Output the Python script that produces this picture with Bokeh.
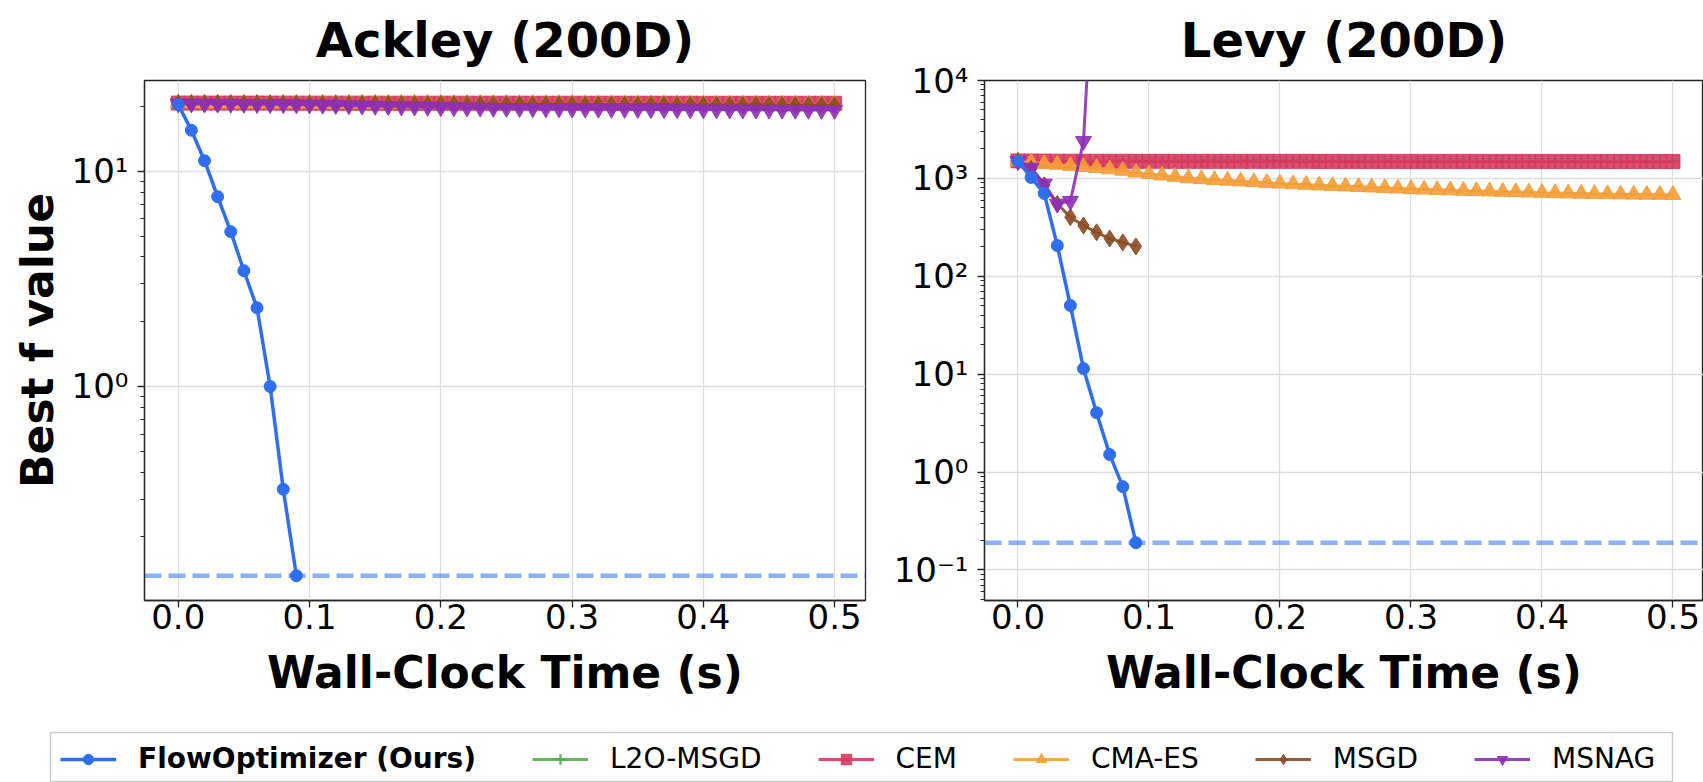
from bokeh.plotting import figure
from bokeh.layouts import column, row
from bokeh.models import ColumnDataSource, FixedTicker, Range1d, Span, Legend, LegendItem
from bokeh.embed import file_html
from bokeh.resources import INLINE

FONT = "DejaVu Sans"

# ---------------- data ----------------
methods = ["FlowOptimizer (Ours)", "L2O-MSGD", "CEM", "CMA-ES", "MSGD", "MSNAG"]

time_full = [0.00, 0.01, 0.02, 0.03, 0.04, 0.05, 0.06, 0.07, 0.08, 0.09,
             0.10, 0.11, 0.12, 0.13, 0.14, 0.15, 0.16, 0.17, 0.18, 0.19,
             0.20, 0.21, 0.22, 0.23, 0.24, 0.25, 0.26, 0.27, 0.28, 0.29,
             0.30, 0.31, 0.32, 0.33, 0.34, 0.35, 0.36, 0.37, 0.38, 0.39,
             0.40, 0.41, 0.42, 0.43, 0.44, 0.45, 0.46, 0.47, 0.48, 0.49, 0.50]
time_short = [0.00, 0.01, 0.02, 0.03, 0.04, 0.05, 0.06, 0.07, 0.08, 0.09]
time_msnag_levy = [0.00, 0.01, 0.02, 0.03, 0.04, 0.05, 0.06]

# Ackley (200D)
ackley_flow = [20.4, 15.5, 11.2, 7.62, 5.24, 3.45, 2.32, 1.00, 0.333, 0.132]
ackley_l2o = [20.72, 20.72, 20.71, 20.71, 20.71, 20.71, 20.70, 20.70, 20.70, 20.70,
              20.70, 20.70, 20.69, 20.69, 20.69, 20.69, 20.69, 20.69, 20.69, 20.68,
              20.68, 20.68, 20.68, 20.68, 20.68, 20.68, 20.68, 20.67, 20.67, 20.67,
              20.67, 20.67, 20.67, 20.67, 20.67, 20.66, 20.66, 20.66, 20.66, 20.66,
              20.66, 20.66, 20.66, 20.66, 20.65, 20.65, 20.65, 20.65, 20.65, 20.65, 20.65]
ackley_cem = [20.74, 20.74, 20.74, 20.73, 20.73, 20.73, 20.73, 20.73, 20.72, 20.72,
              20.72, 20.72, 20.72, 20.72, 20.72, 20.72, 20.71, 20.71, 20.71, 20.71,
              20.71, 20.71, 20.71, 20.71, 20.71, 20.71, 20.71, 20.70, 20.70, 20.70,
              20.70, 20.70, 20.70, 20.70, 20.70, 20.70, 20.70, 20.70, 20.70, 20.70,
              20.69, 20.69, 20.69, 20.69, 20.69, 20.69, 20.69, 20.69, 20.69, 20.69, 20.69]
ackley_cmaes = [20.70, 20.70, 20.69, 20.69, 20.68, 20.68, 20.67, 20.67, 20.66, 20.66,
                20.65, 20.64, 20.64, 20.63, 20.63, 20.62, 20.61, 20.61, 20.60, 20.60,
                20.59, 20.58, 20.58, 20.57, 20.57, 20.56, 20.55, 20.55, 20.54, 20.54,
                20.53, 20.53, 20.52, 20.52, 20.51, 20.51, 20.50, 20.50, 20.49, 20.49,
                20.48, 20.48, 20.48, 20.47, 20.47, 20.47, 20.46, 20.46, 20.46, 20.45, 20.45]
ackley_msgd = [20.70, 20.69, 20.69, 20.68, 20.66, 20.66, 20.65, 20.63, 20.63, 20.62,
               20.60, 20.60, 20.59, 20.57, 20.57, 20.56, 20.55, 20.54, 20.53, 20.53,
               20.52, 20.51, 20.50, 20.50, 20.49, 20.48, 20.47, 20.47, 20.46, 20.45,
               20.45, 20.44, 20.43, 20.43, 20.42, 20.41, 20.41, 20.40, 20.39, 20.39,
               20.38, 20.37, 20.37, 20.36, 20.36, 20.35, 20.34, 20.34, 20.33, 20.33, 20.32]
ackley_msnag = [20.62, 20.60, 20.58, 20.56, 20.54, 20.52, 20.50, 20.48, 20.45, 20.42,
                20.38, 20.33, 20.28, 20.22, 20.16, 20.10, 20.04, 19.98, 19.93, 19.88,
                19.83, 19.79, 19.75, 19.71, 19.68, 19.65, 19.62, 19.59, 19.56, 19.54,
                19.52, 19.50, 19.48, 19.46, 19.44, 19.42, 19.41, 19.39, 19.38, 19.36,
                19.35, 19.34, 19.32, 19.31, 19.30, 19.29, 19.28, 19.27, 19.26, 19.25, 19.24]

# Levy (200D)
levy_flow = [1500, 1024, 703, 206, 50.3, 11.4, 4.04, 1.51, 0.71, 0.19]
levy_l2o = [1502, 1500, 1499, 1498, 1498, 1497, 1497, 1496, 1496, 1496,
            1495, 1495, 1495, 1495, 1494, 1494, 1494, 1494, 1494, 1493,
            1493, 1493, 1493, 1493, 1493, 1492, 1492, 1492, 1492, 1492,
            1492, 1491, 1491, 1491, 1491, 1491, 1491, 1491, 1490, 1490,
            1490, 1490, 1490, 1490, 1490, 1490, 1489, 1489, 1489, 1489, 1489]
levy_cem = [1510, 1506, 1503, 1501, 1500, 1499, 1498, 1497, 1497, 1496,
            1496, 1495, 1495, 1495, 1494, 1494, 1494, 1494, 1493, 1493,
            1493, 1493, 1493, 1492, 1492, 1492, 1492, 1492, 1492, 1491,
            1491, 1491, 1491, 1491, 1491, 1491, 1490, 1490, 1490, 1490,
            1490, 1490, 1490, 1490, 1490, 1489, 1489, 1489, 1489, 1489, 1489]
levy_cmaes = [1500, 1455, 1415, 1380, 1345, 1315, 1280, 1240, 1200, 1150,
              1110, 1075, 1040, 1005, 985, 965, 950, 935, 918, 902,
              888, 874, 862, 850, 840, 830, 820, 810, 800, 790,
              780, 772, 764, 757, 750, 744, 738, 732, 726, 720,
              714, 709, 704, 700, 696, 692, 689, 686, 684, 682, 680]
levy_msgd = [1500, 1250, 850, 550, 402, 330, 281, 243, 222, 202]
levy_msnag = [1500, 1283, 881, 550, 586, 2405, 650000]

x_tick_values = [0.0, 0.1, 0.2, 0.3, 0.4, 0.5]
x_tick_labels = ["0.0", "0.1", "0.2", "0.3", "0.4", "0.5"]
ackley_y_ticks = [0.1, 1, 10]
ackley_y_labels = ["10\u207b\u00b9", "10\u2070", "10\u00b9"]
levy_y_ticks = [0.1, 1, 10, 100, 1000, 10000]
levy_y_labels = ["10\u207b\u00b9", "10\u2070", "10\u00b9", "10\u00b2", "10\u00b3", "10\u2074"]

# ---------------- styles ----------------
colors = ["#2F6FEF", "#55AF4F", "#D7385E", "#F49D38", "#8B4A22", "#8F2FB6"]
markers = ["circle", "cross", "square", "triangle", "diamond", "inverted_triangle"]
msizes = [12, 13, 14, 16, 17, 16]
lwidths = [3.5, 3, 3, 3, 3, 3]
alphas = [1.0, 0.9, 0.9, 0.9, 0.9, 0.9]
SPINE = "#262626"
GRID = "#dddddd"


def style_axes(p):
    for ax in p.axis:
        ax.major_label_text_font = FONT
        ax.major_label_text_font_size = "34px"
        ax.major_label_text_color = "black"
        ax.axis_line_color = SPINE
        ax.axis_line_width = 1.3
        ax.major_tick_line_color = SPINE
        ax.major_tick_line_width = 1.3
        ax.minor_tick_line_color = SPINE
        ax.minor_tick_line_width = 1.0
        ax.major_tick_out = 7
        ax.major_tick_in = 0
        ax.minor_tick_out = 4
        ax.minor_tick_in = 0
        ax.major_label_standoff = 9
        ax.axis_label_text_font = FONT
        ax.axis_label_text_font_size = "44px"
        ax.axis_label_text_font_style = "bold"
        ax.axis_label_text_color = "black"


def make_panel(title, series, y_range, y_ticks, y_labels, x_range, width,
               mb_left, mb_right, ylabel):
    p = figure(width=width, height=724, x_range=Range1d(*x_range),
               y_range=Range1d(*y_range), y_axis_type="log",
               output_backend="svg", toolbar_location=None,
               min_border_left=mb_left, min_border_right=mb_right,
               min_border_top=80, min_border_bottom=124)
    p.background_fill_color = "white"
    p.border_fill_color = "white"
    p.outline_line_color = SPINE
    p.outline_line_width = 1.3
    p.title.text = title
    p.title.text_font = FONT
    p.title.text_font_size = "48px"
    p.title.text_font_style = "bold"
    p.title.align = "center"
    p.title.vertical_align = "top"
    p.title.text_color = "black"
    p.title.standoff = 22

    minor = [k * d for d in [0.01, 0.1, 1, 10, 100, 1000] for k in range(2, 10)]
    yt = FixedTicker(ticks=y_ticks, minor_ticks=minor)
    xt = FixedTicker(ticks=x_tick_values)
    p.yaxis.ticker = yt
    p.xaxis.ticker = xt
    p.ygrid.ticker = yt
    p.xgrid.ticker = xt
    p.yaxis.major_label_overrides = dict(zip(y_ticks, y_labels))
    p.xaxis.major_label_overrides = dict(zip(x_tick_values, x_tick_labels))
    for g in (p.xgrid[0], p.ygrid[0]):
        g.grid_line_color = GRID
        g.grid_line_width = 1.3
    style_axes(p)
    p.xaxis.axis_label = "Wall-Clock Time (s)"
    p.xaxis.major_label_standoff = -4
    p.xaxis.axis_label_standoff = 15
    if ylabel:
        p.yaxis.axis_label = ylabel
        p.yaxis.axis_label_standoff = 6

    flow_y = series[0][1]
    p.add_layout(Span(location=min(flow_y), dimension="width",
                      line_color=colors[0], line_alpha=0.55, line_width=4.5,
                      line_dash="17 7", level="underlay"))

    order = [1, 2, 3, 4, 5, 0]
    for i in order:
        xs, ys = series[i]
        src = ColumnDataSource(dict(x=xs, y=ys))
        p.line("x", "y", source=src, line_color=colors[i], line_width=lwidths[i],
               line_alpha=alphas[i])
        p.scatter("x", "y", source=src, marker=markers[i], size=msizes[i],
                  fill_color=colors[i], line_color=colors[i],
                  fill_alpha=alphas[i], line_alpha=alphas[i],
                  line_width=2.5 if markers[i] == "cross" else 1)
    return p


ackley_series = [(time_short, ackley_flow), (time_full, ackley_l2o), (time_full, ackley_cem),
                 (time_full, ackley_cmaes), (time_full, ackley_msgd), (time_full, ackley_msnag)]
levy_series = [(time_short, levy_flow), (time_full, levy_l2o), (time_full, levy_cem),
               (time_full, levy_cmaes), (time_short, levy_msgd), (time_msnag_levy, levy_msnag)]

p1 = make_panel("Ackley (200D)", ackley_series, (0.1013, 26.4), ackley_y_ticks, ackley_y_labels,
                (-0.0257, 0.5235), 878, 144, 13, "Best f value")
p2 = make_panel("Levy (200D)", levy_series, (0.0488, 10000), levy_y_ticks, levy_y_labels,
                (-0.02557, 0.5233), 825, 106, 0, None)

# ---------------- legend strip ----------------
# data sources reused for legend glyphs; the strip's y-range lies below all data
leg = figure(width=1703, height=58, x_range=Range1d(0, 1), y_range=Range1d(-2, -1),
             x_axis_location=None, y_axis_location=None,
             output_backend="svg", toolbar_location=None,
             min_border_left=50, min_border_right=31, min_border_top=8, min_border_bottom=0)
leg.xgrid.visible = False
leg.ygrid.visible = False
leg.outline_line_color = "#cccccc"
leg.outline_line_width = 1.5
leg.background_fill_color = "white"
leg.border_fill_color = "white"

items = []
for i, name in enumerate(methods):
    xs, ys = levy_series[i]
    src = ColumnDataSource(dict(x=xs, y=ys))
    rl = leg.line("x", "y", source=src, line_color=colors[i], line_width=lwidths[i],
                  line_alpha=alphas[i])
    rs = leg.scatter("x", "y", source=src, marker=markers[i], size=msizes[i],
                     fill_color=colors[i], line_color=colors[i], fill_alpha=alphas[i],
                     line_alpha=alphas[i], line_width=2.5 if markers[i] == "cross" else 1)
    items.append(LegendItem(label=name, renderers=[rl, rs]))


def mk_legend(its, loc, style):
    return Legend(items=its, location=loc, orientation="horizontal",
                  glyph_width=56, glyph_height=26, label_standoff=22, spacing=56,
                  padding=0, margin=0, border_line_color=None, background_fill_alpha=0,
                  label_text_font=FONT, label_text_font_size="28px",
                  label_text_font_style=style, label_text_color="black")


leg.add_layout(mk_legend(items[:1], (10, 7), "bold"))
leg.add_layout(mk_legend(items[1:], (482, 7), "normal"))

layout = column(row(p1, p2), leg)
open("out.html", "w").write(file_html(layout, INLINE))
